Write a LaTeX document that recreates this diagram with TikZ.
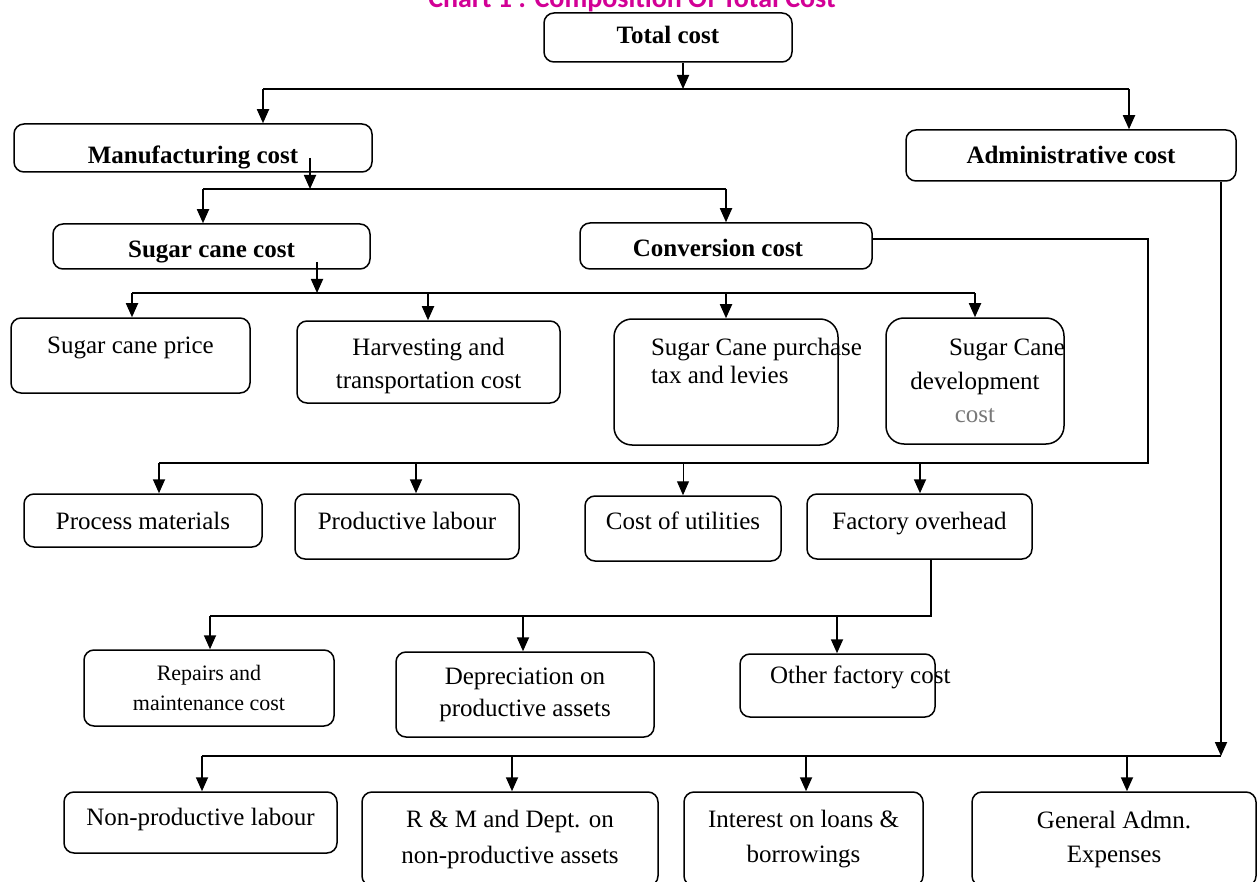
\documentclass[tikz,border=0pt]{standalone}
\usepackage{fontspec}
\setmainfont{Liberation Serif}
\newfontfamily\chartfont{Carlito}
\usetikzlibrary{arrows.meta}

\definecolor{chartpink}{RGB}{210,0,150}
\definecolor{costgray}{RGB}{120,120,120}

\tikzset{
  box/.style={draw, line width=1.5pt, rounded corners=10pt, inner sep=0pt,
              text height=17pt, text depth=5pt},
  twoline/.style={box, text height=, text depth=, align=center},
  head/.style={box, font=\bfseries},
  bus/.style={line width=1.8pt},
  arr/.style={bus, -{Triangle[length=14pt,width=12pt]}},
}

\begin{document}
\fontsize{25}{33}\selectfont
\begin{tikzpicture}[x=1pt, y=-1pt]

    % Fix the page size (the chart is cut at the edges)
    \useasboundingbox (0,0) rectangle (1257,882);
    \clip (0,0) rectangle (1257,882);

    % Title
    \node[font=\chartfont\bfseries\fontsize{28}{30}\selectfont, text=chartpink, anchor=base] (charttitle) at (632,8) {Chart 1 : Composition Of Total Cost};

    % Main cost heads
    \node[head, minimum width=248pt, minimum height=49pt] (total) at (668,37.5) {Total cost};
    \node[head, minimum width=358pt, minimum height=48pt, text height=37pt] (manuf) at (193,148) {Manufacturing cost};
    \node[head, minimum width=330pt, minimum height=51pt, text height=22pt] (admin) at (1071,155.5) {Administrative cost};
    \node[head, minimum width=317pt, minimum height=45pt, text height=28pt] (scost) at (211.5,246.5) {Sugar cane cost};
    \node[head, minimum width=292pt, minimum height=46pt, text height=27pt] (conv) at (726,246) {Conversion cost\hspace*{16pt}};

    % Sugar cane cost items
    \node[box, minimum width=239pt, minimum height=75pt, text depth=22pt] (price) at (130.5,355.5) {Sugar cane price};
    \node[twoline, minimum width=263pt, minimum height=82pt, text height=58pt] (harvest) at (428.5,362) {Harvesting and\\transportation cost};
    \node[box, rounded corners=18pt, minimum width=224pt, minimum height=126pt, text width=150pt, align=left, text depth=71pt, font=\fontsize{25}{28}\selectfont] (tax) at (726,382) {\spaceskip=0pt\relax\rlap{Sugar Cane purchase}\\tax and levies};
    \node[twoline, rounded corners=18pt, minimum width=178pt, minimum height=126pt, font=\fontsize{25}{33.5}\selectfont] (devel) at (975,381) {\makebox[0pt]{\hspace*{64pt}Sugar Cane}\\development\\\textcolor{costgray}{cost}};

    % Conversion cost items
    \node[box, minimum width=238pt, minimum height=53pt, text height=22pt] (process) at (143,520.5) {Process materials};
    \node[box, minimum width=224pt, minimum height=65pt, text depth=12pt] (labour) at (407,526.5) {Productive labour};
    \node[box, minimum width=196pt, minimum height=65pt, text depth=16pt] (util) at (683,528.5) {Cost of utilities};
    \node[box, minimum width=225pt, minimum height=65pt, text depth=12pt] (overhead) at (919.5,526.5) {Factory overhead};

    % Factory overhead items
    \node[twoline, minimum width=250pt, minimum height=76pt, font=\fontsize{22}{30}\selectfont] (repairs) at (209,688) {Repairs and\\maintenance cost};
    \node[twoline, minimum width=258pt, minimum height=85pt, font=\fontsize{25}{32}\selectfont] (deprec) at (525,694.5) {Depreciation on\\productive assets};
    \node[box, minimum width=195pt, minimum height=63pt, text width=135pt, align=left, text depth=22pt] (other) at (837.5,685.5) {\spaceskip=0pt\relax\rlap{Other factory cost}};

    % Administrative cost items
    \node[box, minimum width=273pt, minimum height=61pt, text depth=12pt] (nonlab) at (200.5,822.5) {Non-productive labour};
    \node[twoline, minimum width=296pt, minimum height=94pt, font=\fontsize{25}{36}\selectfont] (rm) at (510,839) {R \& M and Dept. on\\non-productive assets};
    \node[twoline, minimum width=239pt, minimum height=94pt, font=\fontsize{25}{35}\selectfont] (interest) at (803.5,839) {Interest on loans \&\\borrowings};
    \node[twoline, minimum width=284pt, minimum height=94pt, font=\fontsize{25}{34}\selectfont] (general) at (1114,839) {General Admn.\\Expenses};

    % Levels of the branch lines
    \coordinate (busA) at (0,89);
    \coordinate (busB) at (0,189);
    \coordinate (busC) at (0,293);
    \coordinate (turn) at (1148,463);
    \coordinate (busE) at (0,616);
    \coordinate (busF) at (0,756);

    % Total cost -> manufacturing / administrative
    \draw[arr] ([xshift=15pt]total.south) -- ([xshift=15pt]total.south |- busA);
    \draw[bus] ([xshift=70pt]manuf.north |- busA) -- ([xshift=58pt]admin.north |- busA);
    \foreach \n/\dx in {manuf/70, admin/58}
        \draw[arr] ([xshift=\dx pt]\n.north |- busA) -- ([xshift=\dx pt]\n.north);

    % Manufacturing cost -> sugar cane / conversion
    \draw[arr] ([shift={(117pt,-10pt)}]manuf.center) -- ([xshift=117pt]manuf.center |- busB);
    \draw[bus] ([xshift=-8.5pt]scost.north |- busB) -- (conv.north |- busB);
    \foreach \n/\dx in {scost/-8.5, conv/0}
        \draw[arr] ([xshift=\dx pt]\n.north |- busB) -- ([xshift=\dx pt]\n.north);

    % Sugar cane cost -> its items
    \draw[arr] ([shift={(105.5pt,-15.5pt)}]scost.center) -- ([xshift=105.5pt]scost.center |- busC);
    \draw[bus] ([xshift=1.5pt]price.north |- busC) -- (devel.north |- busC);
    \foreach \n/\dx in {price/1.5, harvest/-0.5, tax/0, devel/0}
        \draw[arr] ([xshift=\dx pt]\n.north |- busC) -- ([xshift=\dx pt]\n.north);

    % Conversion cost -> its items
    \draw[bus] ([yshift=7pt]conv.east) -| (turn) -- ([xshift=16pt]process.north |- turn);
    \foreach \n/\dx/\lw in {process/16/1.8, labour/9/1.8, util/0/1, overhead/0.5/1.8}
        \draw[arr, line width=\lw pt] ([xshift=\dx pt]\n.north |- turn) -- ([xshift=\dx pt]\n.north);

    % Factory overhead -> its items
    \draw[bus] ([xshift=11.5pt]overhead.south) |- ([xshift=1pt]repairs.north |- busE);
    \foreach \n/\dx in {repairs/1, deprec/-2, other/-0.5}
        \draw[arr] ([xshift=\dx pt]\n.north |- busE) -- ([xshift=\dx pt]\n.north);

    % Administrative cost -> its items
    \draw[arr] ([xshift=150pt]admin.south) -- ([xshift=150pt]admin.south |- busF);
    \draw[bus] ([xshift=1.5pt]nonlab.north |- busF) -- ([xshift=150pt]admin.south |- busF);
    \foreach \n/\dx in {nonlab/1.5, rm/2, interest/2.5, general/13}
        \draw[arr] ([xshift=\dx pt]\n.north |- busF) -- ([xshift=\dx pt]\n.north);

\end{tikzpicture}
\end{document}
